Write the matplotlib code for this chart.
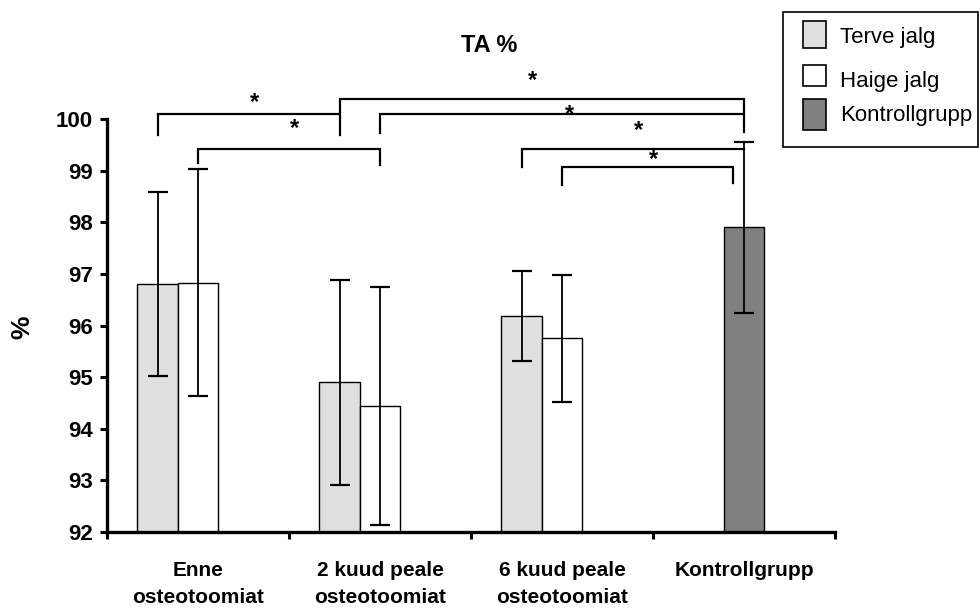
import matplotlib
matplotlib.use('Agg')
import matplotlib.pyplot as plt
from matplotlib.patches import Rectangle

plt.rcParams['font.family'] = ['Liberation Sans', 'DejaVu Sans']

# data
categories = ['Enne\nosteotoomiat', '2 kuud peale\nosteotoomiat',
              '6 kuud peale\nosteotoomiat', 'Kontrollgrupp']
terve = [96.80, 94.90, 96.18]
terve_err = [1.78, 1.99, 0.87]
haige = [96.83, 94.44, 95.75]
haige_err = [2.20, 2.30, 1.23]
kontroll = [97.90]
kontroll_err = [1.66]

# significance brackets: (x1, x2, top, left leg end, right leg end, star x, star y)
brackets = [
    (-0.222, 0.778, 100.10, 99.69, 99.69, 0.31, 100.31),
    (0.778, 3.0, 100.39, 100.13, 100.13, 1.84, 100.74),
    (1.0, 3.0, 100.10, 99.73, 99.75, 2.04, 100.08),
    (0.0, 1.0, 99.42, 99.15, 99.11, 0.53, 99.81),
    (1.778, 3.0, 99.42, 99.07, 99.42, 2.42, 99.77),
    (2.0, 2.94, 99.07, 98.72, 98.76, 2.50, 99.22),
]

light = '#e0e0e0'
dark = '#808080'
w = 0.222

fig = plt.figure(figsize=(9.8, 6.1), dpi=100)
ax = fig.add_axes([107/980, 1-532/610, (835-107)/980, (532-119)/610])

xs = range(len(terve))
ax.bar([x - w for x in xs], [v - 92 for v in terve], w, bottom=92, color=light,
       edgecolor='black', linewidth=1, align='center')
ax.bar(list(xs), [v - 92 for v in haige], w, bottom=92, color='white',
       edgecolor='black', linewidth=1)
ax.bar([3], [v - 92 for v in kontroll], w, bottom=92, color=dark,
       edgecolor='black', linewidth=1)

eb = dict(fmt='none', ecolor='black', elinewidth=1.3, capsize=7, capthick=1.6)
ax.errorbar([x - w for x in xs], terve, yerr=terve_err, **eb)
ax.errorbar(list(xs), haige, yerr=haige_err, **eb)
ax.errorbar([3], kontroll, yerr=kontroll_err, **eb)

for x1, x2, top, l1, l2, sx, sy in brackets:
    ax.plot([x1, x1, x2, x2], [l1, top, top, l2], color='black', lw=1.6,
            clip_on=False, solid_joinstyle='miter')
    ax.text(sx, sy, '*', ha='center', va='center', fontsize=17, fontweight='bold')

ax.set_xlim(-0.5, 3.5)
ax.set_ylim(92, 100)
ax.set_yticks(range(92, 101))
ax.set_yticklabels([str(v) for v in range(92, 101)], fontsize=16, fontweight='bold')
ax.set_xticks([-0.5, 0.5, 1.5, 2.5, 3.5])
ax.set_xticklabels([])
ax.set_xticks(range(4), minor=True)
ax.set_xticklabels(categories, minor=True, fontsize=15, fontweight='bold',
                   linespacing=1.55)
ax.tick_params(axis='x', which='minor', length=0, pad=21)
ax.tick_params(axis='both', which='major', length=5, width=2.2, direction='out')
ax.tick_params(axis='y', pad=5)

for s in ['top', 'right']:
    ax.spines[s].set_visible(False)
for s in ['left', 'bottom']:
    ax.spines[s].set_linewidth(2.4)

fig.text(22/980, 1-327/610, '%', rotation=90, ha='center', va='center',
         fontsize=19, fontweight='bold')
fig.text(489/980, 1-45/610, 'TA %', ha='center', va='center',
         fontsize=17, fontweight='bold')

# legend box drawn by hand
def fx(px):
    return px / 980

def fy(py):
    return 1 - py / 610

fig.patches.append(Rectangle((fx(783), fy(147)), fx(978) - fx(783), fy(12) - fy(147),
                             transform=fig.transFigure, facecolor='white',
                             edgecolor='black', linewidth=1.2))
legend_items = [('Terve jalg', light, 21, 48, 38), ('Haige jalg', 'white', 65, 86, 81),
                ('Kontrollgrupp', dark, 99, 130, 115)]
for label, col, y0, y1, ty in legend_items:
    fig.patches.append(Rectangle((fx(803), fy(y1)), fx(826) - fx(803), fy(y0) - fy(y1),
                                 transform=fig.transFigure, facecolor=col,
                                 edgecolor='black', linewidth=1.2))
    fig.text(fx(840), fy(ty), label, ha='left', va='center', fontsize=16)

fig.savefig('out.png', dpi=100)
